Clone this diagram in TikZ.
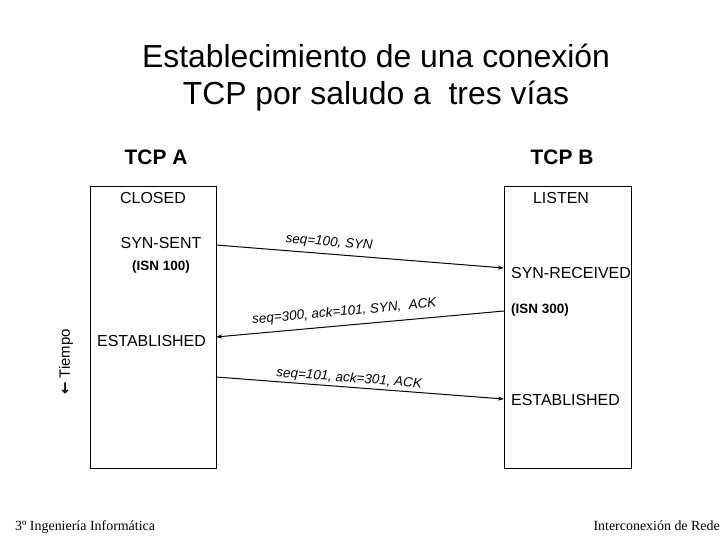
\documentclass[tikz,border=0pt]{standalone}
\usepackage{fontspec}
\setmainfont{Liberation Sans}
\newfontfamily\timesf{Liberation Serif}
\newfontfamily\djv{DejaVu Sans}
\usetikzlibrary{arrows.meta}
\begin{document}
\begin{tikzpicture}[x=1bp,y=-1bp,
  lifebox/.style={draw,line width=0.8pt},
  state/.style={font=\fontsize{16}{18}\selectfont,inner sep=0pt},
  isn/.style={font=\bfseries\fontsize{13.5}{15}\selectfont,inner sep=0pt},
  msg/.style={line width=1pt,-{Stealth[length=6pt,width=4pt]}},
  msglab/.style={font=\itshape\fontsize{13.5}{15}\selectfont,inner sep=0pt,sloped},
  hdr/.style={font=\bfseries\fontsize{21}{23}\selectfont,inner sep=0pt},
  ttl/.style={font=\fontsize{32}{36}\selectfont,inner sep=0pt,anchor=base},
  foot/.style={font=\timesf\fontsize{14}{16}\selectfont,inner sep=0pt}]
\useasboundingbox (0,0) rectangle (720,540);
\node[ttl] (title1) at (376,68) {Establecimiento de una conexión};
\node[ttl] (title2) at (376,105) {TCP por saludo a\ \ tres vías};
\node[hdr] (tcpa) at (156,157) {TCP A};
\node[hdr] (tcpb) at (562,157) {TCP B};
\draw[lifebox] (90,186) rectangle (216,468);
\draw[lifebox] (504,186) rectangle (631,468);
\coordinate (a1) at (216,245);
\coordinate (b1) at (504,268);
\coordinate (b2) at (504,311);
\coordinate (a2) at (216,337);
\coordinate (a3) at (216,377);
\coordinate (b3) at (504,399);
\node[state] (closed) at (153,198) {CLOSED};
\node[state] (synsent) at (161,243) {SYN-SENT};
\node[isn] (isn100) at (161,267) {(ISN 100)};
\node[state] (listen) at (561,198) {LISTEN};
\node[state,anchor=west] (synrec) at (511,273) {SYN-RECEIVED};
\node[isn,anchor=west] (isn300) at (511,310) {(ISN 300)};
\node[state,anchor=west] (estA) at (97,341) {ESTABLISHED};
\node[state,anchor=west] (estB) at (511,400) {ESTABLISHED};
\draw[msg] (a1) -- (b1);
\draw[msg] (b2) -- (a2);
\draw[msg] (a3) -- (b3);
\path (a1) -- (b1) node[msglab,pos=0.39,above=5pt] (l1) {seq=100, SYN};
\path (a2) -- (b2) node[msglab,pos=0.45,above=7pt] (l2) {seq=300, ack=101, SYN,\ \ ACK};
\path (a3) -- (b3) node[msglab,pos=0.46,above=2pt] (l3) {seq=101, ack=301, ACK};
\node[font=\fontsize{15}{17}\selectfont,rotate=90,inner sep=0pt] (tiempo) at (66,362) {{\djv\bfseries ←} Tiempo};
\node[foot,anchor=base west] (f1) at (15,530) {3º Ingeniería Informática};
\node[foot,anchor=base east] (f2) at (720,530) {Interconexión de Rede};
\end{tikzpicture}
\end{document}
